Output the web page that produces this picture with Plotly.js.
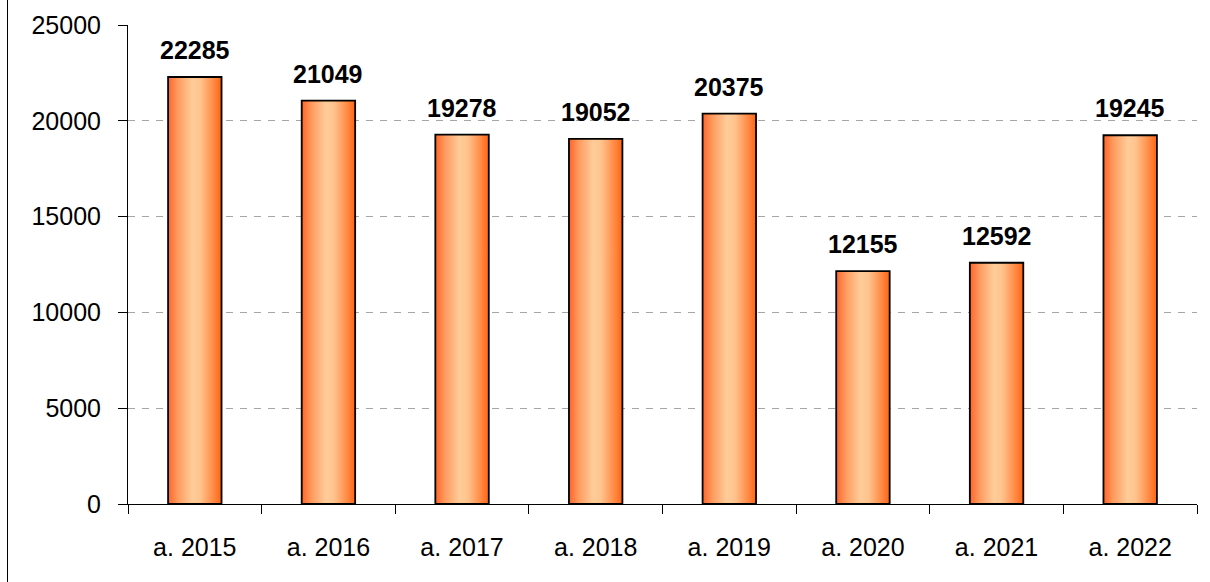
<!DOCTYPE html>
<html>
<head>
<meta charset="utf-8">
<script src="https://cdn.plot.ly/plotly-3.0.1.min.js"></script>
<style>
  html, body { margin: 0; padding: 0; background: #fff; }
  #chart { width: 1210px; height: 582px; }
</style>
</head>
<body>
<div id="chart"></div>
<script>
const categories = ["a. 2015", "a. 2016", "a. 2017", "a. 2018", "a. 2019", "a. 2020", "a. 2021", "a. 2022"];
const values = [22285, 21049, 19278, 19052, 20375, 12155, 12592, 19245];
const yTicks = [0, 5000, 10000, 15000, 20000, 25000];

const FONT = '"Liberation Sans", Arial, sans-serif';

const trace = {
  type: 'bar',
  x: categories,
  y: values,
  width: 0.4,
  marker: { color: '#FF9A5C', line: { color: '#000000', width: 1.8 } },
  hoverinfo: 'x+y'
};

const annotations = categories.map((c, i) => ({
  x: c, y: values[i], xref: 'x', yref: 'y',
  text: String(values[i]),
  showarrow: false,
  yanchor: 'bottom',
  yshift: 11,
  font: { family: FONT, size: 25, color: '#000', weight: 'bold' }
}));

const m = { l: 128, r: 13, t: 25, b: 78 };
const plotW = 1210 - m.l - m.r;

const layout = {
  width: 1210, height: 582,
  margin: m,
  paper_bgcolor: '#fff', plot_bgcolor: '#fff',
  showlegend: false,
  bargap: 0.6,
  font: { family: FONT, size: 25, color: '#000' },
  xaxis: {
    type: 'category',
    showline: true, linecolor: '#000', linewidth: 1,
    ticks: 'outside', tickson: 'boundaries', ticklen: 9, tickcolor: '#000', tickwidth: 1,
    showgrid: false, zeroline: false,
    tickfont: { family: FONT, size: 25, color: '#000' },
    ticklabelstandoff: 21,
    fixedrange: true
  },
  yaxis: {
    range: [0, 25000],
    tickvals: yTicks,
    ticktext: yTicks.map(String),
    showline: true, linecolor: '#000', linewidth: 1,
    ticks: 'outside', ticklen: 9, tickcolor: '#000', tickwidth: 1,
    showgrid: true, gridcolor: '#A6A6A6', gridwidth: 1, griddash: '7px,7px',
    zeroline: false,
    tickfont: { family: FONT, size: 25, color: '#000' },
    ticklabelstandoff: 12,
    fixedrange: true
  },
  annotations: annotations,
  shapes: [{
    type: 'line', xref: 'paper', yref: 'paper',
    x0: (7.5 - m.l) / plotW, x1: (7.5 - m.l) / plotW,
    y0: -78 / (582 - m.t - m.b), y1: 1.2,
    line: { color: '#000', width: 1 }
  }]
};

function applyGradient(gd) {
  const svg = gd.querySelector('svg.main-svg');
  if (!svg) return;
  let defs = svg.querySelector('defs');
  if (!defs) {
    defs = document.createElementNS('http://www.w3.org/2000/svg', 'defs');
    svg.insertBefore(defs, svg.firstChild);
  }
  if (!svg.querySelector('#barGrad')) {
    const g = document.createElementNS('http://www.w3.org/2000/svg', 'linearGradient');
    g.setAttribute('id', 'barGrad');
    g.setAttribute('x1', '0'); g.setAttribute('y1', '0');
    g.setAttribute('x2', '1'); g.setAttribute('y2', '0');
    const stops = [[0, '#FF6429'], [0.18, '#FF9A5E'], [0.45, '#FFCC99'], [0.6, '#FFC48E'], [0.85, '#FF8A45'], [1, '#FF6410']];
    stops.forEach(([o, c]) => {
      const s = document.createElementNS('http://www.w3.org/2000/svg', 'stop');
      s.setAttribute('offset', o);
      s.setAttribute('stop-color', c);
      g.appendChild(s);
    });
    defs.appendChild(g);
  }
  gd.querySelectorAll('.barlayer .point path').forEach(p => {
    p.style.fill = 'url(#barGrad)';
  });
}

Plotly.newPlot('chart', [trace], layout, { displayModeBar: false, staticPlot: true }).then(gd => {
  applyGradient(gd);
  gd.on('plotly_afterplot', () => applyGradient(gd));
});
</script>
</body>
</html>
